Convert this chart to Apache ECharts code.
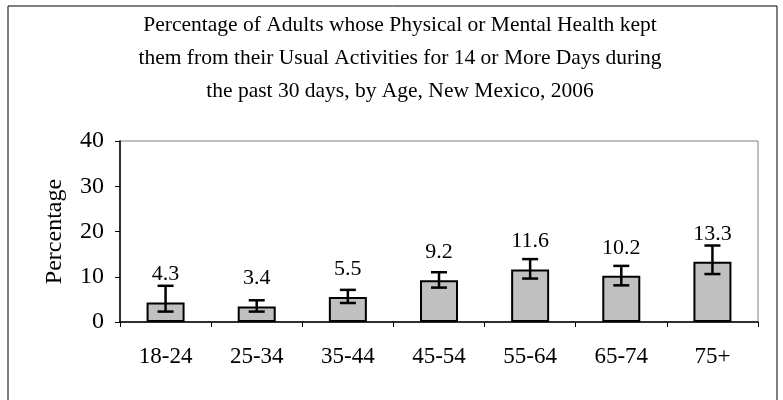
<!DOCTYPE html>
<html>
<head>
<meta charset="utf-8">
<script src="https://cdn.jsdelivr.net/npm/echarts@6/dist/echarts.min.js"></script>
<style>
  html, body { margin: 0; padding: 0; background: #fff; }
  #chart { width: 783px; height: 400px; }
</style>
</head>
<body>
<div id="chart"></div>
<script>
// age groups
var categories = ["18-24", "25-34", "35-44", "45-54", "55-64", "65-74", "75+"];
// percentages
var values = [4.3, 3.4, 5.5, 9.2, 11.6, 10.2, 13.3];
// 95% confidence limits
var lower = [2.3, 2.3, 4.2, 7.6, 9.6, 8.1, 10.6];
var upper = [8.0, 4.8, 7.1, 11.0, 13.9, 12.4, 16.9];
var yTicks = [0, 10, 20, 30, 40];

var font = "Liberation Serif";
var chart = echarts.init(document.getElementById("chart"));

var errData = [];
for (var i = 0; i < categories.length; i++) {
  errData.push([i, lower[i], upper[i]]);
}

var options = {
  animation: false,
  textStyle: { fontFamily: font, color: "#000" },
  graphic: [
    {
      type: "rect",
      shape: { x: 8, y: 6, width: 769, height: 420 },
      style: { fill: "none", stroke: "#000", lineWidth: 1 },
      silent: true
    }
  ],
  title: {
    text: "Percentage of Adults whose Physical or Mental Health kept\nthem from their Usual Activities for 14 or More Days during\nthe past 30 days, by Age, New Mexico, 2006",
    left: 395,
    textAlign: "center",
    top: 4,
    textStyle: {
      fontFamily: font,
      fontWeight: "normal",
      fontSize: 21.5,
      lineHeight: 33,
      color: "#000"
    }
  },
  grid: {
    left: 120,
    right: 25,
    top: 141,
    bottom: 78,
    show: true,
    borderColor: "#808080",
    borderWidth: 1
  },
  xAxis: {
    type: "category",
    data: categories,
    axisLine: { lineStyle: { color: "#000", width: 1.5 } },
    axisTick: { show: true, length: 5, inside: false, lineStyle: { color: "#000" } },
    axisLabel: { fontFamily: font, fontSize: 23, color: "#000", margin: 23 }
  },
  yAxis: {
    type: "value",
    min: yTicks[0],
    max: yTicks[yTicks.length - 1],
    interval: 10,
    name: "Percentage",
    nameLocation: "middle",
    nameGap: 53,
    nameTextStyle: { fontFamily: font, fontSize: 24, color: "#000" },
    axisLine: { show: true, lineStyle: { color: "#000", width: 1.5 } },
    axisTick: { show: true, length: 5, lineStyle: { color: "#000" } },
    splitLine: { show: false },
    axisLabel: { fontFamily: font, fontSize: 24, color: "#000", margin: 16 }
  },
  series: [
    {
      type: "bar",
      data: values,
      barWidth: 38,
      itemStyle: { color: "#c0c0c0", borderColor: "#000", borderWidth: 2 },
      label: {
        show: true,
        position: "top",
        distance: 17,
        fontFamily: font,
        fontSize: 22,
        color: "#000"
      }
    },
    {
      type: "custom",
      data: errData,
      encode: { x: 0, y: [1, 2] },
      z: 10,
      renderItem: function (params, api) {
        var x = api.value(0);
        var lo = api.coord([x, api.value(1)]);
        var hi = api.coord([x, api.value(2)]);
        var hw = 8;
        var st = { stroke: "#000", lineWidth: 2.5 };
        return {
          type: "group",
          children: [
            { type: "line", shape: { x1: lo[0], y1: lo[1], x2: hi[0], y2: hi[1] }, style: st },
            { type: "line", shape: { x1: hi[0] - hw, y1: hi[1], x2: hi[0] + hw, y2: hi[1] }, style: st },
            { type: "line", shape: { x1: lo[0] - hw, y1: lo[1], x2: lo[0] + hw, y2: lo[1] }, style: st }
          ]
        };
      }
    }
  ]
};
chart.setOption(options);
</script>
</body>
</html>
